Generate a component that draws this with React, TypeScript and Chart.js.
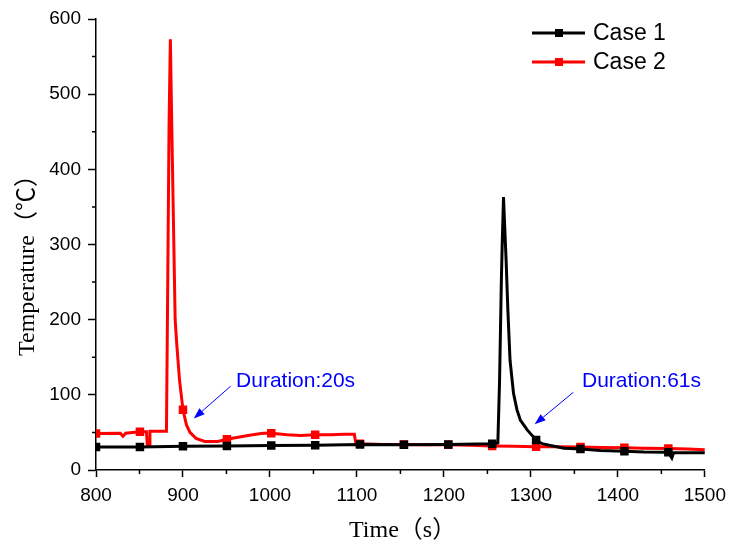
import { useEffect, useRef } from "react";
import { Chart, registerables } from "chart.js";

Chart.register(...registerables);

const seriesNames = ["Case 1", "Case 2"];
const seriesColors = ["#000000", "#ff0000"];

const case1Time = [
  800, 850.5, 900, 950.5, 1001.5, 1052, 1103.5, 1154, 1205, 1255.5, 1262, 1264, 1266, 1267,
  1268.5, 1270, 1271.5, 1273.5, 1276, 1280, 1284, 1288, 1296, 1306, 1313, 1321, 1338, 1357,
  1380, 1407.5, 1430, 1458, 1462, 1464, 1500,
];
const case1Temp = [
  30.5, 30.5, 31.5, 32, 32.5, 33, 34, 33.5, 34, 35, 36, 120, 250, 300,
  363, 320, 279, 213, 146, 102, 80, 66, 53, 40, 35, 33, 29, 28,
  26, 25, 24, 23.5, 16, 23, 23,
];

const case2Time = [
  800, 828, 831, 834, 850.5, 858, 859, 861, 862, 881, 882.5, 884, 885.5, 887, 889, 891, 893,
  896, 900, 904, 908, 915, 925, 940, 950.5, 965, 980, 992, 1001.5, 1020, 1035, 1052, 1070,
  1085, 1097, 1098.5, 1103.5, 1130, 1154, 1180, 1205, 1230, 1255.5, 1280, 1306, 1330, 1357,
  1380, 1407.5, 1430, 1458, 1480, 1500,
];
const case2Temp = [
  48.5, 49, 45, 49, 51, 51, 33, 33, 51.5, 51.5, 250, 460, 573, 465, 333, 200, 165,
  120, 80, 60, 50, 42, 38, 38, 41, 44, 47, 49, 49, 47, 46, 47, 47,
  47.5, 47.5, 37, 35, 34, 34, 33.5, 33.5, 33, 32, 31.5, 31, 31, 30.5,
  30, 29.5, 29, 28.5, 28, 27,
];

const markerTimes = [
  800, 850.5, 900, 950.5, 1001.5, 1052, 1103.5, 1154, 1205, 1255.5, 1306, 1357, 1407.5, 1458,
];

const xTickValues = [800, 900, 1000, 1100, 1200, 1300, 1400, 1500];
const yTickValues = [0, 100, 200, 300, 400, 500, 600];
const xMinorTicks = [850, 950, 1050, 1150, 1250, 1350, 1450];
const yMinorTicks = [50, 150, 250, 350, 450, 550];

const xTitle = "Time（s）";
const yTitle = "Temperature（℃）";
const annotationLabels = ["Duration:20s", "Duration:61s"];

const sansFont = "'Liberation Sans', Arial, sans-serif";
const serifFont = "'Liberation Serif', 'Times New Roman', 'Noto Sans CJK SC', serif";

const minorTickPlugin = {
  id: "minorTicks",
  afterDraw(chart: any) {
    const { ctx, chartArea, scales } = chart;
    ctx.save();
    ctx.strokeStyle = "#000";
    ctx.lineWidth = 1.5;
    ctx.beginPath();
    xMinorTicks.forEach((v) => {
      const px = scales.x.getPixelForValue(v);
      ctx.moveTo(px, chartArea.bottom);
      ctx.lineTo(px, chartArea.bottom + 4);
    });
    yMinorTicks.forEach((v) => {
      const py = scales.y.getPixelForValue(v);
      ctx.moveTo(chartArea.left, py);
      ctx.lineTo(chartArea.left - 4, py);
    });
    ctx.stroke();
    ctx.restore();
  },
};

const titlesPlugin = {
  id: "axisTitles",
  afterDraw(chart: any) {
    const { ctx, chartArea } = chart;
    ctx.save();
    ctx.fillStyle = "#000";
    ctx.font = `24px ${serifFont}`;
    ctx.textBaseline = "middle";
    ctx.textAlign = "left";
    ctx.fillText(xTitle, chartArea.left + 253, chartArea.bottom + 61);
    ctx.translate(28, chartArea.bottom - 114);
    ctx.rotate(-Math.PI / 2);
    ctx.fillText(yTitle, 0, 0);
    ctx.restore();
  },
};

const legendPlugin = {
  id: "lineLegend",
  afterDraw(chart: any) {
    const { ctx } = chart;
    ctx.save();
    chart.data.datasets.forEach((ds: any, i: number) => {
      const y = 33 + i * 29;
      ctx.strokeStyle = ds.borderColor;
      ctx.lineWidth = 3;
      ctx.beginPath();
      ctx.moveTo(532, y);
      ctx.lineTo(585, y);
      ctx.stroke();
      ctx.fillStyle = ds.borderColor;
      ctx.fillRect(555, y - 4, 8, 8);
      ctx.fillStyle = "#000";
      ctx.font = `23px ${sansFont}`;
      ctx.textBaseline = "middle";
      ctx.textAlign = "left";
      ctx.fillText(ds.label, 593, y + 1);
    });
    ctx.restore();
  },
};

const notes = [
  { text: annotationLabels[0], tx: 961, ty: 118, x0: 955, y0: 111.7, x1: 912.4, y1: 68.4 },
  { text: annotationLabels[1], tx: 1358.7, ty: 118, x0: 1348.8, y0: 103.4, x1: 1304.3, y1: 60.8 },
];

const annotationPlugin = {
  id: "durationNotes",
  afterDraw(chart: any) {
    const { ctx, scales } = chart;
    ctx.save();
    ctx.strokeStyle = "#0000ff";
    ctx.fillStyle = "#0000ff";
    notes.forEach((n) => {
      const tx = scales.x.getPixelForValue(n.tx);
      const ty = scales.y.getPixelForValue(n.ty);
      ctx.font = `21px ${sansFont}`;
      ctx.textBaseline = "middle";
      ctx.textAlign = "left";
      ctx.fillText(n.text, tx, ty);
      const ax0 = scales.x.getPixelForValue(n.x0);
      const ay0 = scales.y.getPixelForValue(n.y0);
      const ax1 = scales.x.getPixelForValue(n.x1);
      const ay1 = scales.y.getPixelForValue(n.y1);
      const ang = Math.atan2(ay1 - ay0, ax1 - ax0);
      const head = 11;
      const half = 4;
      const bx = ax1 - head * Math.cos(ang);
      const by = ay1 - head * Math.sin(ang);
      ctx.lineWidth = 1;
      ctx.beginPath();
      ctx.moveTo(ax0, ay0);
      ctx.lineTo(bx, by);
      ctx.stroke();
      ctx.beginPath();
      ctx.moveTo(ax1, ay1);
      ctx.lineTo(bx + half * Math.sin(ang), by - half * Math.cos(ang));
      ctx.lineTo(bx - half * Math.sin(ang), by + half * Math.cos(ang));
      ctx.closePath();
      ctx.fill();
    });
    ctx.restore();
  },
};

function toPoints(times: number[], temps: number[]) {
  return times.map((t, i) => ({ x: t, y: temps[i] }));
}

export default function App() {
  const canvasRef = useRef<HTMLCanvasElement | null>(null);

  useEffect(() => {
    document.body.style.margin = "0";
    const canvas = canvasRef.current;
    if (!canvas) return;
    const markerRadius = (ctx: any) =>
      ctx.raw && markerTimes.includes(ctx.raw.x) ? 6 : 0;
    const chart = new Chart(canvas, {
      type: "line",
      data: {
        datasets: [
          {
            label: seriesNames[0],
            data: toPoints(case1Time, case1Temp),
            borderColor: seriesColors[0],
            backgroundColor: seriesColors[0],
            borderWidth: 3,
            pointStyle: "rect",
            pointRadius: markerRadius,
            pointBorderWidth: 0,
            pointBackgroundColor: seriesColors[0],
            tension: 0,
          },
          {
            label: seriesNames[1],
            data: toPoints(case2Time, case2Temp),
            borderColor: seriesColors[1],
            backgroundColor: seriesColors[1],
            borderWidth: 3,
            pointStyle: "rect",
            pointRadius: markerRadius,
            pointBorderWidth: 0,
            pointBackgroundColor: seriesColors[1],
            tension: 0,
          },
        ],
      },
      options: {
        responsive: false,
        animation: false,
        events: [],
        layout: { padding: { top: 19, right: 23, left: 0, bottom: 0 } },
        plugins: {
          legend: { display: false },
          tooltip: { enabled: false },
          title: { display: false },
        },
        scales: {
          x: {
            type: "linear",
            min: 800,
            max: 1500,
            afterBuildTicks: (s: any) => {
              s.ticks = xTickValues.map((v) => ({ value: v }));
            },
            afterFit: (s: any) => {
              s.height = 76;
            },
            ticks: {
              color: "#000",
              font: { family: sansFont, size: 19 },
              padding: 7,
              maxRotation: 0,
              autoSkip: false,
              callback: (v: any) => String(v),
            },
            grid: {
              drawOnChartArea: false,
              drawTicks: true,
              tickLength: 7,
              tickColor: "#000",
              tickWidth: 1.5,
            },
            border: { display: true, color: "#000", width: 1.5 },
          },
          y: {
            type: "linear",
            min: 0,
            max: 600,
            afterBuildTicks: (s: any) => {
              s.ticks = yTickValues.map((v) => ({ value: v }));
            },
            afterFit: (s: any) => {
              s.width = 96;
            },
            ticks: {
              color: "#000",
              font: { family: sansFont, size: 19 },
              padding: 7,
              autoSkip: false,
              callback: (v: any) => String(v),
            },
            grid: {
              drawOnChartArea: false,
              drawTicks: true,
              tickLength: 8,
              tickColor: "#000",
              tickWidth: 1.5,
            },
            border: { display: true, color: "#000", width: 1.5 },
          },
        },
      },
      plugins: [minorTickPlugin, titlesPlugin, legendPlugin, annotationPlugin],
    } as any);
    return () => chart.destroy();
  }, []);

  return (
    <div style={{ position: "absolute", left: 0, top: 0, width: 733, height: 546, background: "#fff" }}>
      <canvas ref={canvasRef} width={733} height={546} style={{ display: "block" }} />
    </div>
  );
}
